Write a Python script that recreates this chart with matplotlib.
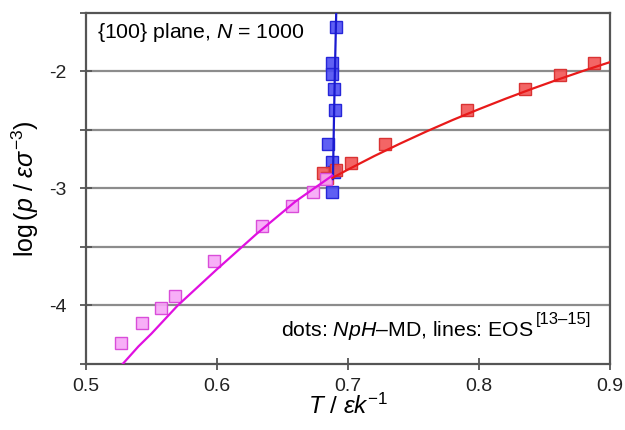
import numpy as np
import matplotlib.pyplot as plt
from matplotlib.ticker import MultipleLocator

plt.rcParams['font.family'] = 'Liberation Sans'
plt.rcParams['mathtext.fontset'] = 'custom'
plt.rcParams['mathtext.rm'] = 'Liberation Sans'
plt.rcParams['mathtext.it'] = 'Liberation Sans:italic'

# NpH-MD data (dots)
T_blue = [0.691, 0.688, 0.688, 0.689, 0.690, 0.685, 0.688, 0.689, 0.688]
p_blue = [-1.62, -1.93, -2.02, -2.15, -2.33, -2.62, -2.77, -2.86, -3.03]
T_red = [0.888, 0.862, 0.835, 0.791, 0.728, 0.702, 0.691, 0.681, 0.684]
p_red = [-1.93, -2.03, -2.15, -2.33, -2.62, -2.78, -2.84, -2.87, -2.91]
T_pink = [0.527, 0.543, 0.557, 0.568, 0.598, 0.634, 0.657, 0.673, 0.683]
p_pink = [-4.32, -4.15, -4.02, -3.92, -3.62, -3.32, -3.15, -3.03, -2.92]

# EOS (lines)
T_blue_eos = [0.6885, 0.6893, 0.6900, 0.6910]
p_blue_eos = [-2.92, -2.40, -2.00, -1.50]
T_red_eos = [0.688, 0.70, 0.72, 0.74, 0.76, 0.78, 0.80, 0.82, 0.84, 0.86, 0.88, 0.90]
p_red_eos = [-2.91, -2.838, -2.723, -2.615, -2.512, -2.414, -2.322, -2.234, -2.150, -2.070, -1.993, -1.920]
T_pink_eos = [0.528, 0.54, 0.55, 0.57, 0.60, 0.63, 0.66, 0.688]
p_pink_eos = [-4.50, -4.35, -4.24, -4.00, -3.69, -3.39, -3.11, -2.89]

fig = plt.figure(figsize=(6.25, 4.3), dpi=100)
ax = fig.add_axes([0.1376, 0.1535, 0.8384, 0.8163])

ax.set_xlim(0.5, 0.9)
ax.set_ylim(-4.5, -1.5)

ax.yaxis.set_minor_locator(MultipleLocator(0.5))
ax.set_yticks([-4, -3, -2])
ax.set_yticklabels(['-4', '-3', '-2'])
ax.set_xticks([0.5, 0.6, 0.7, 0.8, 0.9])
ax.set_xticklabels(['0.5', '0.6', '0.7', '0.8', '0.9'])

for y in [-4.0, -3.5, -3.0, -2.5, -2.0]:
    ax.axhline(y, color='#8c8c8c', lw=1.6, zorder=0)

for s in ax.spines.values():
    s.set_color('#555555')
    s.set_linewidth(1.6)

ax.tick_params(axis='both', which='both', direction='inout', color='#555555',
               width=1.3, labelsize=14, labelcolor='#222222')
ax.tick_params(axis='y', which='major', length=8, pad=10)
ax.tick_params(axis='y', which='minor', length=8)
ax.tick_params(axis='x', which='major', length=8, pad=6)

ms = 8.5
ax.plot(T_blue, p_blue, 's', ms=ms, mfc=(0.3, 0.3, 0.95, 0.9), mec=(0.15, 0.15, 0.85), mew=1, zorder=3)
ax.plot(T_red, p_red, 's', ms=ms, mfc=(0.95, 0.33, 0.33, 0.9), mec=(0.85, 0.2, 0.2), mew=1, zorder=4)
ax.plot(T_pink, p_pink, 's', ms=ms, mfc=(0.97, 0.65, 0.97, 0.9), mec=(0.85, 0.3, 0.85), mew=1, zorder=5)

ax.plot(T_blue_eos, p_blue_eos, '-', color='#1a1ad0', lw=1.6, zorder=6)
ax.plot(T_red_eos, p_red_eos, '-', color='#e81a1a', lw=1.6, zorder=6)
ax.plot(T_pink_eos, p_pink_eos, '-', color='#e010e0', lw=1.6, zorder=6)

ax.text(0.5085, -1.67, r'{100} plane, $N$ = 1000', fontsize=15.3, va='center', ha='left')
ax.text(0.8414, -4.21, r'dots: $NpH$–MD, lines: EOS', fontsize=15.3,
        va='center', ha='right')
ax.text(0.8437, -4.12, '[13–15]', fontsize=12, va='center', ha='left')

ax.set_xlabel(r'$T\ /\ \varepsilon k^{\mathrm{-1}}$', fontsize=17.5, labelpad=-1)
ax.set_ylabel(r'$\mathrm{log\,(}p\ /\ \varepsilon\sigma^{\mathrm{-3}}\mathrm{)}$', fontsize=18, labelpad=6)

fig.savefig('out.png', dpi=100)
